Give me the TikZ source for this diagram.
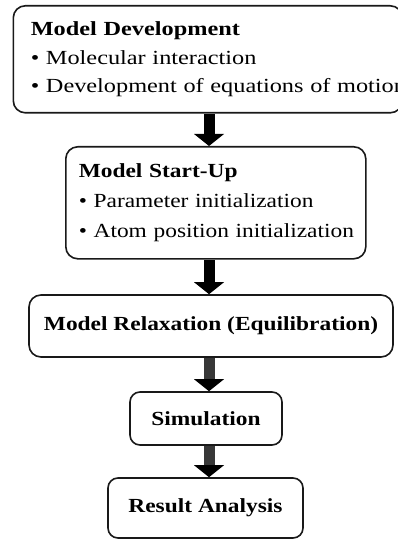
\documentclass[tikz,border=0pt]{standalone}
\usepackage{fontspec}
\setmainfont{Liberation Serif}[FakeStretch=1.17]
\newfontfamily\widefont{Liberation Serif}[FakeStretch=1.215]
\usetikzlibrary{calc}

\tikzset{
  stage/.style={draw=black!90, line width=1.6pt, rounded corners=12pt,
    inner sep=0pt, font=\fontsize{20pt}{28.5pt}\selectfont},
  listbox/.style={stage, align=left, text width=#1},
  titlebox/.style={stage, font=\fontsize{20pt}{24pt}\selectfont\bfseries},
}

% block arrow from the bottom of one box to the top of the next
\newcommand\flowarrow[3]{%
  \fill[#3] ($(#1.south -| spine)+(-5.5,0)$) rectangle ($(#2.north -| spine)+(5.5,-12)$);
  \fill[black] ($(#2.north -| spine)+(-15,-12)$) -- ($(#2.north -| spine)+(15,-12)$)
     -- (#2.north -| spine) -- cycle;}

\begin{document}
\begin{tikzpicture}[x=1pt,y=-1pt]
  \useasboundingbox (0,0) rectangle (398,540);
  \clip (0,0) rectangle (398,540);
  \fill[white] (0,0) rectangle (398,540);

  \coordinate (spine) at (209,0);

  % model development
  \node[listbox=354pt, inner xsep=17.5pt, minimum height=107pt, anchor=north west,
        font=\widefont\fontsize{20pt}{28.5pt}\selectfont]
    (dev) at (12.5,5)
    {\textbf{Model Development}\\
     \mbox{\textbullet{} Molecular interaction}\\
     \mbox{\textbullet{} Development of equations of motion}};

  % model start-up
  \node[listbox=274pt, inner xsep=13pt, minimum height=112pt, anchor=north west,
        font=\fontsize{20pt}{30pt}\selectfont]
    (start) at (65,146)
    {\textbf{Model Start-Up}\\
     \mbox{\textbullet{} Parameter initialization}\\
     \mbox{\textbullet{} Atom position initialization}};

  % single-line stages
  \node[titlebox, minimum width=364pt, minimum height=62pt] (relax) at (211,326)
    {Model Relaxation (Equilibration)};
  \node[titlebox, rounded corners=10pt, minimum width=152pt, minimum height=53pt]
    (sim) at (206,418.5) {Simulation};
  \node[titlebox, rounded corners=10pt, minimum width=195pt, minimum height=60pt]
    (res) at (205.5,508) {Result Analysis};

  % connectors
  \flowarrow{dev}{start}{black}
  \flowarrow{start}{relax}{black}
  \flowarrow{relax}{sim}{black!78}
  \flowarrow{sim}{res}{black!78}
\end{tikzpicture}
\end{document}
